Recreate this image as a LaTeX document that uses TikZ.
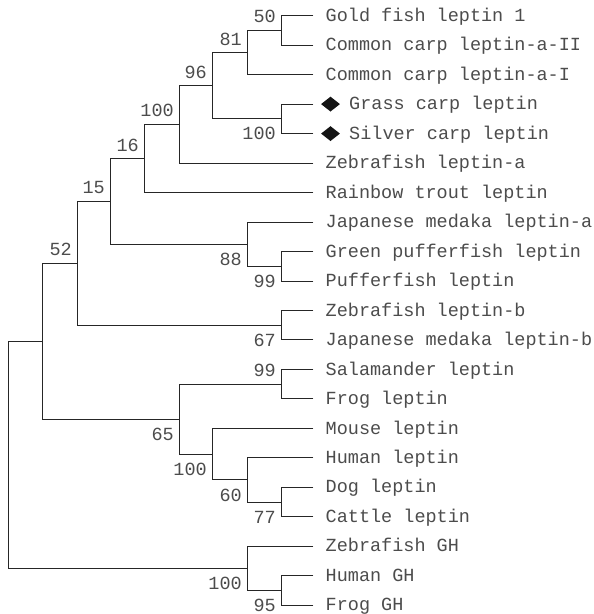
\documentclass[tikz,border=0pt]{standalone}
\usepackage{fontspec}
\setmainfont{Liberation Mono}
\usetikzlibrary{shapes.geometric}
\begin{document}
\begin{tikzpicture}[x=1bp,y=-1bp,
  br/.style={line width=0.9bp, black!85, line cap=rect},
  leaf/.style={anchor=base west, inner sep=0pt, font=\fontsize{18.5bp}{20bp}\selectfont, text=black!70},
  bs/.style={anchor=base east, inner sep=0pt, font=\fontsize{18.5bp}{20bp}\selectfont, text=black!70},
  gem/.style={diamond, fill=black!92, draw=none, minimum width=19bp, minimum height=15bp, inner sep=0pt, aspect=1.25}
]
\useasboundingbox (0,0) rectangle (594,614);
% leaves
\foreach \i/\y/\t in {1/15.7/Gold fish leptin 1, 2/45.2/Common carp leptin-a-II, 3/74.6/Common carp leptin-a-I,
  6/163.1/Zebrafish leptin-a, 7/192.5/Rainbow trout leptin, 8/222.0/Japanese medaka leptin-a,
  9/251.5/Green pufferfish leptin, 10/281.0/Pufferfish leptin, 11/310.4/Zebrafish leptin-b,
  12/339.9/Japanese medaka leptin-b, 13/369.4/Salamander leptin, 14/398.8/Frog leptin,
  15/428.3/Mouse leptin, 16/457.8/Human leptin, 17/487.2/Dog leptin, 18/516.7/Cattle leptin,
  19/546.2/Zebrafish GH, 20/575.7/Human GH, 21/605.1/Frog GH}
{
  \coordinate (L\i) at (313,\y);
  \node[leaf] (t\i) at (325.5,\y+5.7) {\t};
}
\foreach \i/\y/\t in {4/104.1/Grass carp leptin, 5/133.6/Silver carp leptin}
{
  \coordinate (L\i) at (313,\y);
  \node[gem] (d\i) at (330.5,\y) {};
  \node[leaf] (t\i) at (349,\y+5.7) {\t};
}
% internal nodes
\coordinate (n50) at (281,30.4);
\coordinate (n81) at (247,52.5);
\coordinate (nGS) at (281,118.9);
\coordinate (n96) at (212,85.7);
\coordinate (nA) at (179,124.4);
\coordinate (n16) at (144,158.5);
\coordinate (n99a) at (281,266.2);
\coordinate (n88) at (247,244.1);
\coordinate (n15) at (110,201.3);
\coordinate (n67) at (281,325.2);
\coordinate (n52) at (77,263.3);
\coordinate (n99b) at (281,384.1);
\coordinate (n77) at (281,502.0);
\coordinate (n60) at (247,479.9);
\coordinate (nM) at (212,454.1);
\coordinate (n65) at (179,419.1);
\coordinate (n42) at (42,341.2);
\coordinate (n95) at (281,590.4);
\coordinate (nGH) at (247,568.3);
\coordinate (root) at (8.3,454.8);
% branches
\draw[br] (n50) |- (L1) (n50) |- (L2);
\draw[br] (n81) |- (n50) (n81) |- (L3);
\draw[br] (nGS) |- (L4) (nGS) |- (L5);
\draw[br] (n96) |- (n81) (n96) |- (nGS);
\draw[br] (nA) |- (n96) (nA) |- (L6);
\draw[br] (n16) |- (nA) (n16) |- (L7);
\draw[br] (n99a) |- (L9) (n99a) |- (L10);
\draw[br] (n88) |- (L8) (n88) |- (n99a);
\draw[br] (n15) |- (n16) (n15) |- (n88);
\draw[br] (n67) |- (L11) (n67) |- (L12);
\draw[br] (n52) |- (n15) (n52) |- (n67);
\draw[br] (n99b) |- (L13) (n99b) |- (L14);
\draw[br] (n77) |- (L17) (n77) |- (L18);
\draw[br] (n60) |- (L16) (n60) |- (n77);
\draw[br] (nM) |- (L15) (nM) |- (n60);
\draw[br] (n65) |- (n99b) (n65) |- (nM);
\draw[br] (n42) |- (n52) (n42) |- (n65);
\draw[br] (n95) |- (L20) (n95) |- (L21);
\draw[br] (nGH) |- (L19) (nGH) |- (n95);
\draw[br] (root) |- (n42) (root) |- (nGH);
% bootstrap values
\node[bs] (b50) at (276,23.0) {50};
\node[bs] (b81) at (242,45.1) {81};
\node[bs] (b96) at (207,78.3) {96};
\node[bs] (bA) at (174,117.0) {100};
\node[bs] (b16) at (139,151.1) {16};
\node[bs] (b15) at (105,193.9) {15};
\node[bs] (b52) at (72,255.9) {52};
\node[bs] (b99b) at (276,376.7) {99};
\node[bs] (bGS) at (276,140.0) {100};
\node[bs] (b88) at (242,265.2) {88};
\node[bs] (b99a) at (276,287.3) {99};
\node[bs] (b67) at (276,346.3) {67};
\node[bs] (b65) at (174,440.2) {65};
\node[bs] (bM) at (207,475.2) {100};
\node[bs] (b60) at (242,501.0) {60};
\node[bs] (b77) at (276,523.1) {77};
\node[bs] (bGH) at (242,589.4) {100};
\node[bs] (b95) at (276,611.5) {95};
\end{tikzpicture}
\end{document}
